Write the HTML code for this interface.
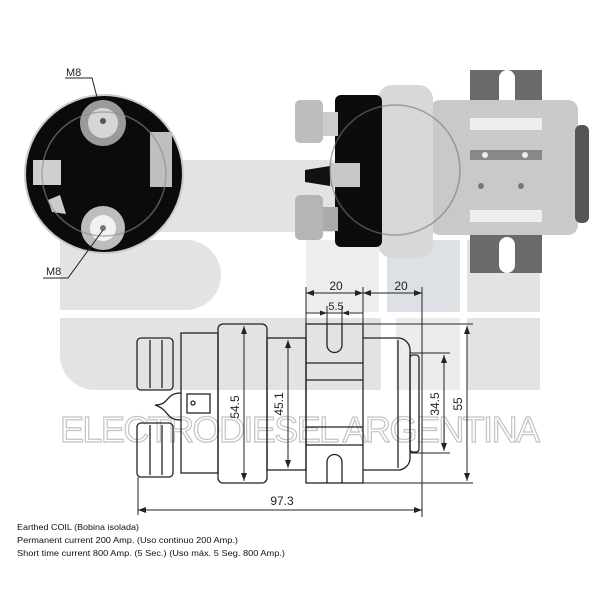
<!DOCTYPE html>
<html><head><meta charset="utf-8"><style>html,body{margin:0;padding:0;background:#fff}svg{display:block}</style></head>
<body>
<svg width="600" height="600" viewBox="0 0 600 600" xmlns="http://www.w3.org/2000/svg" font-family="Liberation Sans, sans-serif">
<rect width="600" height="600" fill="#fff"/>
<!-- watermark -->
<g fill="#e3e3e3">
<rect x="60" y="160" width="480" height="72"/>
<path d="M60 240 H186 A35 35 0 0 1 221 275 A35 35 0 0 1 186 310 H60 Z"/>
<rect x="306" y="240" width="73" height="72" fill="#eceded"/>
<rect x="387" y="240" width="73" height="72" fill="#dde1e6"/>
<rect x="467" y="240" width="73" height="72"/>
<path d="M60 318 H381 V390 H95 A35 35 0 0 1 60 355 Z"/>
<rect x="396" y="318" width="64" height="72" fill="#ececec"/>
<rect x="467" y="318" width="73" height="72"/>
</g>
<text x="60" y="442" font-size="36" fill="none" stroke="#c4c4c4" stroke-width="1.2" textLength="480" lengthAdjust="spacing">ELECTRODIESEL ARGENTINA</text>

<!-- end view -->
<circle cx="104" cy="174" r="79" fill="#0b0b0b" stroke="#ccc" stroke-width="2"/>
<circle cx="103" cy="123" r="23" fill="#9a9a9a"/>
<circle cx="103" cy="123" r="15" fill="#d6d6d6"/>
<circle cx="103" cy="121" r="3" fill="#555"/>
<circle cx="103" cy="228" r="22" fill="#bdbdbd"/>
<circle cx="103" cy="228" r="13" fill="#f2f2f2"/>
<circle cx="103" cy="228" r="3" fill="#777"/>
<rect x="33" y="160" width="28" height="25" fill="#cfcfcf"/>
<rect x="150" y="132" width="22" height="55" fill="#bfbfbf"/>
<path d="M48 200 L60 195 L66 214 L52 212 Z" fill="#ccc"/>
<circle cx="104" cy="174" r="62" fill="none" stroke="#888" stroke-width="1.5" opacity=".6"/>
<g fill="none" stroke="#222" stroke-width="1">
<path d="M65 78 H92 L97 97"/>
<path d="M43 278 H68 L103 230"/>
</g>
<text x="66" y="76" font-size="11" fill="#222">M8</text>
<text x="46" y="275" font-size="11" fill="#222">M8</text>

<!-- photo side view -->
<rect x="470" y="70" width="72" height="203" fill="#6a6a6a"/>
<rect x="499" y="70" width="16" height="37" rx="8" fill="#fff"/>
<rect x="499" y="237" width="16" height="36" rx="8" fill="#fff"/>
<rect x="430" y="100" width="148" height="135" rx="10" fill="#c9c9c9"/>
<rect x="470" y="118" width="72" height="12" fill="#eee"/>
<rect x="470" y="150" width="72" height="10" fill="#888"/>
<rect x="470" y="210" width="72" height="12" fill="#eee"/>
<circle cx="485" cy="155" r="3" fill="#eee"/><circle cx="525" cy="155" r="3" fill="#eee"/>
<circle cx="481" cy="186" r="3" fill="#777"/><circle cx="521" cy="186" r="3" fill="#777"/>
<rect x="575" y="125" width="14" height="98" rx="6" fill="#555"/>
<rect x="378" y="85" width="55" height="173" rx="14" fill="#d8d8d8"/>
<rect x="335" y="95" width="47" height="152" rx="6" fill="#0c0c0c"/>
<rect x="318" y="112" width="20" height="24" fill="#ccc"/>
<rect x="295" y="100" width="28" height="43" rx="5" fill="#bdbdbd"/>
<rect x="318" y="207" width="20" height="24" fill="#aaa"/>
<rect x="295" y="195" width="28" height="45" rx="5" fill="#b5b5b5"/>
<path d="M305 170 L330 166 L330 186 L305 182 Z" fill="#111"/>
<rect x="330" y="163" width="30" height="24" fill="#c8c8c8"/>
<circle cx="395" cy="170" r="65" fill="none" stroke="#777" stroke-width="1.5" opacity=".6"/>

<!-- technical drawing -->
<g fill="none" stroke="#222" stroke-width="1.3">
<rect x="137" y="338" width="36" height="52" rx="4"/>
<line x1="150" y1="340" x2="150" y2="388"/><line x1="162" y1="340" x2="162" y2="388"/>
<rect x="137" y="423" width="36" height="54" rx="4"/>
<line x1="150" y1="425" x2="150" y2="475"/><line x1="162" y1="425" x2="162" y2="475"/>
<rect x="181" y="333" width="37" height="140"/>
<path d="M181 393 C165 393 170 405 155 405 C170 410 165 420 181 420"/>
<rect x="187" y="394" width="23" height="19"/>
<circle cx="193" cy="403" r="2"/>
<rect x="218" y="324" width="49" height="159" rx="5"/>
<rect x="267" y="338" width="39" height="132"/>
<rect x="306" y="324" width="57" height="159"/>
<path d="M327 324 V345 A7.5 7.5 0 0 0 342 345 V324"/>
<path d="M327 483 V462 A7.5 7.5 0 0 1 342 462 V483"/>
<line x1="306" y1="363" x2="363" y2="363"/><line x1="306" y1="380" x2="363" y2="380"/>
<line x1="306" y1="427" x2="363" y2="427"/><line x1="306" y1="445" x2="363" y2="445"/>
<path d="M363 338 H398 A12 12 0 0 1 410 350 V458 A12 12 0 0 1 398 470 H363"/>
<line x1="398" y1="340" x2="398" y2="468"/>
<rect x="410" y="355" width="9" height="97" rx="3"/>
</g>
<g stroke="#222" stroke-width="1" fill="none">
<line x1="306" y1="287" x2="306" y2="324"/><line x1="363" y1="287" x2="363" y2="324"/>
<line x1="422" y1="287" x2="422" y2="517"/>
<line x1="306" y1="293" x2="422" y2="293"/>
<line x1="306" y1="313" x2="363" y2="313"/>
<line x1="327" y1="306" x2="327" y2="324"/><line x1="342" y1="306" x2="342" y2="324"/>
<line x1="244" y1="326" x2="244" y2="481"/>
<line x1="288" y1="340" x2="288" y2="468"/>
<line x1="410" y1="353" x2="450" y2="353"/><line x1="410" y1="453" x2="450" y2="453"/>
<line x1="444" y1="355" x2="444" y2="451"/>
<line x1="363" y1="324" x2="473" y2="324"/><line x1="363" y1="483" x2="473" y2="483"/>
<line x1="467" y1="326" x2="467" y2="481"/>
<line x1="138" y1="477" x2="138" y2="515"/>
<line x1="138" y1="510" x2="422" y2="510"/>
</g>
<g fill="#222">
<path d="M306 293 l8 -3 v6z"/><path d="M363 293 l-8 -3 v6z"/><path d="M363 293 l8 -3 v6z"/><path d="M422 293 l-8 -3 v6z"/>
<path d="M327 313 l-7 -2.5 v5z"/><path d="M342 313 l7 -2.5 v5z"/>
<path d="M244 326 l-3 8 h6z"/><path d="M244 481 l-3 -8 h6z"/>
<path d="M288 340 l-3 8 h6z"/><path d="M288 468 l-3 -8 h6z"/>
<path d="M444 355 l-3 8 h6z"/><path d="M444 451 l-3 -8 h6z"/>
<path d="M467 326 l-3 8 h6z"/><path d="M467 481 l-3 -8 h6z"/>
<path d="M138 510 l8 -3 v6z"/><path d="M422 510 l-8 -3 v6z"/>
</g>
<g font-size="12" fill="#222" text-anchor="middle">
<text x="336" y="290">20</text>
<text x="401" y="290">20</text>
<text x="336" y="310" font-size="11">5.5</text>
<text x="282" y="505">97.3</text>
<text transform="translate(239,407) rotate(-90)">54.5</text>
<text transform="translate(283,404) rotate(-90)">45.1</text>
<text transform="translate(439,404) rotate(-90)">34.5</text>
<text transform="translate(462,404) rotate(-90)">55</text>
</g>
<g font-size="8.5" fill="#111">
<text x="17" y="530" textLength="122" lengthAdjust="spacingAndGlyphs">Earthed COIL (Bobina isolada)</text>
<text x="17" y="543" textLength="221" lengthAdjust="spacingAndGlyphs">Permanent current 200 Amp. (Uso continuo 200 Amp.)</text>
<text x="17" y="556" textLength="268" lengthAdjust="spacingAndGlyphs">Short time current 800 Amp. (5 Sec.) (Uso máx. 5 Seg. 800 Amp.)</text>
</g>
</svg>
</body></html>
